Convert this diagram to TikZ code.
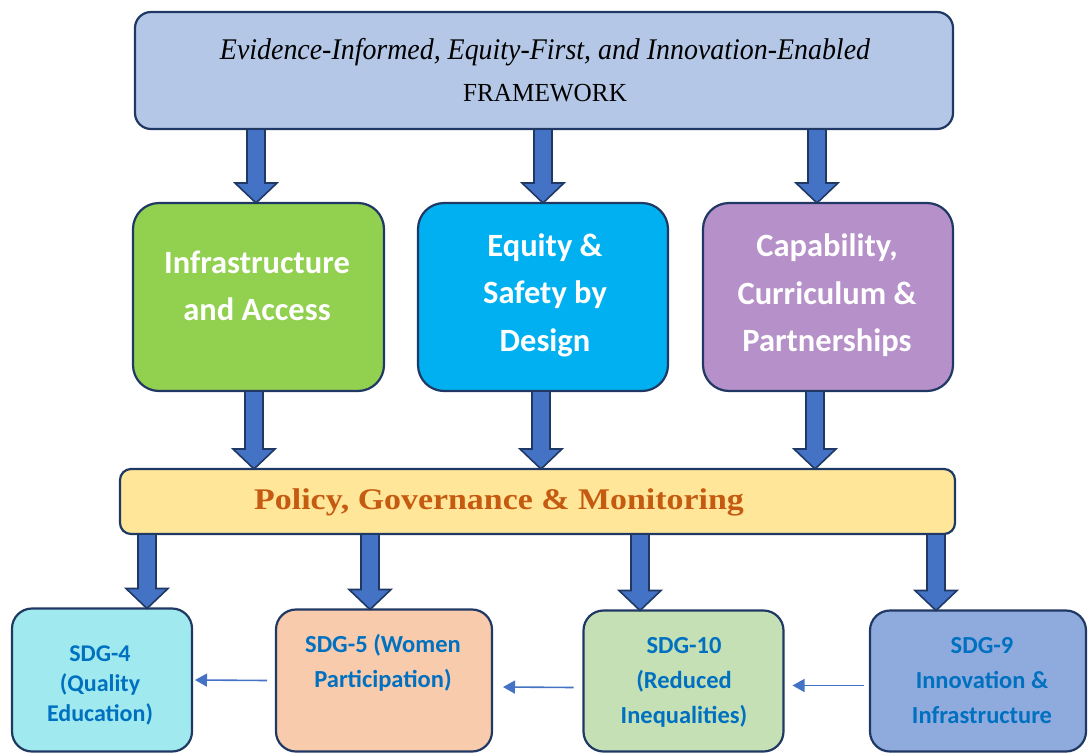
\documentclass[tikz,border=0pt]{standalone}
\usepackage{fontspec}
\setmainfont{Liberation Serif}
\newfontfamily\calib{Carlito}
\newfontfamily\serifnarrow[FakeStretch=0.93]{Liberation Serif}
\newfontfamily\serifframe[FakeStretch=0.97]{Liberation Serif}
\newfontfamily\serifwide[FakeStretch=1.13]{Liberation Serif}
\usetikzlibrary{calc,arrows.meta}
\definecolor{navy}{HTML}{1F3864}
\definecolor{topfill}{HTML}{B4C7E7}
\definecolor{arrowfill}{HTML}{4472C4}
\definecolor{greenfill}{HTML}{92D050}
\definecolor{bluefill}{HTML}{00B0F0}
\definecolor{purplefill}{HTML}{B690C8}
\definecolor{policyfill}{HTML}{FFE699}
\definecolor{policytext}{HTML}{C55A11}
\definecolor{sdgfour}{HTML}{A0E9EE}
\definecolor{sdgfive}{HTML}{F8CBAD}
\definecolor{sdgten}{HTML}{C5E0B4}
\definecolor{sdgnine}{HTML}{8FAADC}
\definecolor{sdgtext}{HTML}{0070C0}
\newcommand\blockarrow[2]{%
  \filldraw[fill=arrowfill, draw=navy, line width=1.6, line join=miter]
    ($(#1)+(-9,0)$) -- ($(#2)+(-9,-20)$) -- ($(#2)+(-21,-20)$) -- (#2)
    -- ($(#2)+(21,-20)$) -- ($(#2)+(9,-20)$) -- ($(#1)+(9,0)$) -- cycle;}
\begin{document}
\begin{tikzpicture}[x=1pt,y=-1pt,
  box/.style={draw=navy, line width=2.2, inner sep=0, outer sep=0},
  midtext/.style={text=white, align=center, font=\calib\bfseries\fontsize{32.5}{47.5}\selectfont},
  sdgtxt/.style={text=sdgtext, align=center, font=\calib\bfseries\fontsize{24.5}{35}\selectfont},
  smallarr/.style={draw=arrowfill, line width=1.6, -{Triangle[length=12, width=13]}}]
\useasboundingbox (0,0) rectangle (1088,753);
% top
\node[box, fill=topfill, rounded corners=16, minimum width=818, minimum height=117] (top) at (544,70.5) {};
\node[align=center, font=\serifnarrow\fontsize{30}{42}\selectfont] (toptxt) at (545,70)
  {{\itshape Evidence-Informed, Equity-First, and Innovation-Enabled}\\
   {\serifframe\fontsize{26}{42}\selectfont FRAMEWORK}};
% middle boxes
\node[box, fill=greenfill, rounded corners=26, minimum width=251, minimum height=188] (green) at (258.5,297) {};
\node[box, fill=bluefill, rounded corners=26, minimum width=250, minimum height=188] (blue) at (543,297) {};
\node[box, fill=purplefill, rounded corners=26, minimum width=250, minimum height=188] (purple) at (828,297) {};
\node[midtext] (greentxt) at (257,286) {Infrastructure\\and Access};
\node[midtext] (bluetxt) at (545,295) {Equity \&\\Safety by\\Design};
\node[midtext] (purpletxt) at (827,295.5) {Capability,\\Curriculum \&\\Partnerships};
% policy
\node[box, fill=policyfill, rounded corners=11, minimum width=835, minimum height=65] (policy) at (537.5,501.5) {};
\node[text=policytext, font=\serifwide\bfseries\fontsize{30}{36}\selectfont] (policytxt) at (499,502) {Policy, Governance \& Monitoring};
% bottom boxes
\node[box, fill=sdgfour, rounded corners=20, minimum width=180, minimum height=143] (sdg4) at (102,680) {};
\node[box, fill=sdgfive, rounded corners=20, minimum width=216, minimum height=142] (sdg5) at (384,680.5) {};
\node[box, fill=sdgten, rounded corners=20, minimum width=200, minimum height=141] (sdg10) at (683.5,681) {};
\node[box, fill=sdgnine, rounded corners=20, minimum width=216, minimum height=141] (sdg9) at (978,681) {};
\node[sdgtxt, font=\calib\bfseries\fontsize{24}{30}\selectfont] (sdg4txt) at (100,685) {SDG-4\\(Quality\\Education)};
\node[sdgtxt] (sdg5txt) at (383,663) {SDG-5 (Women\\Participation)};
\node[sdgtxt] (sdg10txt) at (684,682) {SDG-10\\(Reduced\\Inequalities)};
\node[sdgtxt] (sdg9txt) at (982,681) {SDG-9\\Innovation \&\\Infrastructure};
% block arrows
\coordinate (xa) at (256,0);
\coordinate (xb) at (543,0);
\coordinate (xc) at (817,0);
\coordinate (xd) at (254,0);
\coordinate (xe) at (541,0);
\coordinate (xf) at (815,0);
\coordinate (xg) at (147,0);
\coordinate (xh) at (370,0);
\coordinate (xi) at (640,0);
\coordinate (xj) at (936,0);
\blockarrow{xa |- top.south}{xa |- green.north}
\blockarrow{xb |- top.south}{xb |- blue.north}
\blockarrow{xc |- top.south}{xc |- purple.north}
\blockarrow{xd |- green.south}{xd |- policy.north}
\blockarrow{xe |- blue.south}{xe |- policy.north}
\blockarrow{xf |- purple.south}{xf |- policy.north}
\blockarrow{xg |- policy.south}{xg |- sdg4.north}
\blockarrow{xh |- policy.south}{xh |- sdg5.north}
\blockarrow{xi |- policy.south}{xi |- sdg10.north}
\blockarrow{xj |- policy.south}{xj |- sdg9.north}
% small arrows
\draw[smallarr] ($(sdg5.west)+(-9,0)$) -- ($(sdg4.east)+(3,0)$);
\draw[smallarr] ($(sdg10.west)+(-10,6.5)$) -- ($(sdg5.east)+(11,6.5)$);
\draw[smallarr] ($(sdg9.west)+(-6,4.5)$) -- ($(sdg10.east)+(9,4.5)$);
\end{tikzpicture}
\end{document}
